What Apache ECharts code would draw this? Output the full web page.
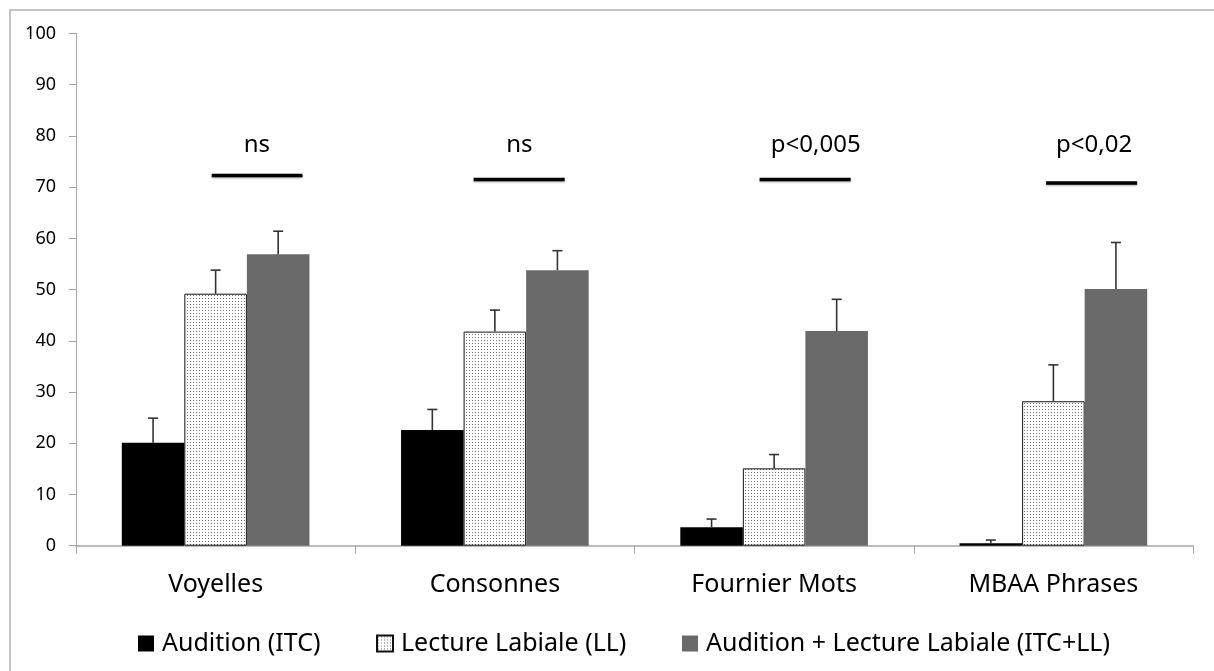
<!DOCTYPE html>
<html><head><meta charset="utf-8">
<script src="https://cdn.jsdelivr.net/npm/echarts@6/dist/echarts.min.js"></script>
<style>html,body{margin:0;padding:0;background:#fff}#c{width:1214px;height:671px}</style>
</head><body><div id="c"></div>
<script>
// ---- data ----
const categories = ['Voyelles', 'Consonnes', 'Fournier Mots', 'MBAA Phrases'];
const seriesNames = ['Audition (ITC)', 'Lecture Labiale (LL)', 'Audition + Lecture Labiale (ITC+LL)'];
const auditionMean = [20.1, 22.6, 3.6, 0.5];
const auditionErr = [4.8, 4.0, 1.6, 0.6];
const lectureMean = [49.2, 41.8, 15.1, 28.2];
const lectureErr = [4.6, 4.2, 2.7, 7.1];
const combinedMean = [56.9, 53.8, 41.9, 50.1];
const combinedErr = [4.5, 3.8, 6.2, 9.1];
const yMin = 0, yMax = 100, yStep = 10;
const sigLabels = ['ns', 'ns', 'p<0,005', 'p<0,02'];
const sigLineY = [72.3, 71.5, 71.5, 70.8];

// ---- layout (not data) ----
const FONT = '"Noto Sans", "Open Sans", sans-serif';
const sigLabelY = 78.2;
const sigSpan = [[-0.014, 0.311], [-0.076, 0.25], [-0.052, 0.274], [-0.026, 0.30]];
const sigTextX = [0.148, 0.088, 0.149, 0.146];
const catGap = 0.328;
const legendLeft = [133, 371, 677];

// dotted pattern
const pc = document.createElement('canvas');
pc.width = 3; pc.height = 3;
const pctx = pc.getContext('2d');
pctx.fillStyle = '#ffffff'; pctx.fillRect(0, 0, 3, 3);
pctx.fillStyle = '#777777'; pctx.fillRect(1, 1, 1, 1);

const means = [auditionMean, lectureMean, combinedMean];
const errs = [auditionErr, lectureErr, combinedErr];
const styles = [
  { color: '#000000' },
  { color: { image: pc, repeat: 'repeat' }, borderColor: '#111', borderWidth: 1 },
  { color: '#696969' }
];

const errData = [];
means.forEach((m, s) => m.forEach((v, i) => errData.push([i, v, v + errs[s][i], s])));

const chart = echarts.init(document.getElementById('c'), null, { renderer: 'canvas' });

const barSeries = seriesNames.map((n, s) => ({
  name: n, type: 'bar', data: means[s],
  barGap: '0%', barCategoryGap: (catGap * 100) + '%',
  itemStyle: styles[s], emphasis: { disabled: true }, z: 2
}));

const option = {
  animation: false,
  backgroundColor: '#fff',
  graphic: [{
    type: 'rect', silent: true, z: -10,
    shape: { x: 10, y: 10, width: 1400, height: 1000 },
    style: { fill: null, stroke: '#c4c4c4', lineWidth: 2 }
  }],
  legend: seriesNames.map((n, s) => ({
    data: [n], left: legendLeft[s], top: 626,
    itemWidth: 16, itemHeight: 16, icon: 'rect',
    textStyle: { fontFamily: FONT, fontSize: 25, color: '#000', padding: [0, 0, 0, 3] },
    selectedMode: false
  })),
  grid: { left: 76, right: 21, top: 33.5, bottom: 125.3 },
  xAxis: {
    type: 'category', data: categories, boundaryGap: true,
    axisLine: { lineStyle: { color: '#a6a6a6', width: 1.5 } },
    axisTick: { show: true, length: 8, lineStyle: { color: '#a6a6a6' } },
    axisLabel: { fontFamily: FONT, fontSize: 25, color: '#000', margin: 27 },
    splitLine: { show: false }
  },
  yAxis: {
    type: 'value', min: yMin, max: yMax, interval: yStep,
    axisLine: { show: true, lineStyle: { color: '#a6a6a6', width: 1 } },
    axisTick: { show: true, length: 7, lineStyle: { color: '#a6a6a6' } },
    axisLabel: { fontFamily: FONT, fontSize: 18, color: '#000', margin: 20 },
    splitLine: { show: false }
  },
  series: barSeries.concat([
    {
      type: 'custom', name: 'err', data: errData, z: 5, silent: true,
      renderItem: function (params, api) {
        const i = api.value(0), lo = api.value(1), hi = api.value(2), s = api.value(3);
        const band = api.size([1, 0])[0];
        const bw = band * (1 - catGap) / 3;
        const c = api.coord([i, lo]);
        const x = c[0] + (s - 1) * bw;
        const y0 = c[1];
        const y1 = api.coord([i, hi])[1];
        const st = { stroke: '#333', lineWidth: 1.6 };
        return { type: 'group', children: [
          { type: 'line', shape: { x1: x, y1: y0, x2: x, y2: y1 }, style: st },
          { type: 'line', shape: { x1: x - 5, y1: y1, x2: x + 5, y2: y1 }, style: st }
        ] };
      }
    },
    {
      type: 'custom', name: 'sig', data: sigLineY.map((y, i) => [i, y]), z: 6, silent: true, clip: false,
      renderItem: function (params, api) {
        const i = api.value(0), y = api.value(1);
        const band = api.size([1, 0])[0];
        const c = api.coord([i, y]);
        const ty = api.coord([i, sigLabelY])[1];
        return { type: 'group', children: [
          { type: 'line', shape: { x1: c[0] + sigSpan[i][0] * band, y1: c[1], x2: c[0] + sigSpan[i][1] * band, y2: c[1] },
            style: { stroke: '#000', lineWidth: 3.5, shadowBlur: 2, shadowColor: 'rgba(0,0,0,0.35)', shadowOffsetY: 1 } },
          { type: 'text', x: c[0] + sigTextX[i] * band, y: ty,
            style: { text: sigLabels[i], fontFamily: FONT, fontSize: 24, fill: '#000', align: 'center', verticalAlign: 'middle' } }
        ] };
      }
    }
  ])
};
chart.setOption(option);
</script>
</body></html>
